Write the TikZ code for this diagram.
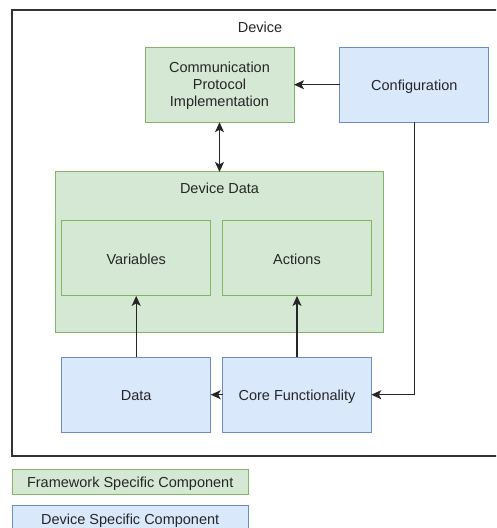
\documentclass[tikz,border=0pt]{standalone}
\usepackage{fontspec}
\setmainfont{Liberation Sans}
\usetikzlibrary{arrows.meta}
\definecolor{gfill}{HTML}{D5E8D4}
\definecolor{gline}{HTML}{82B366}
\definecolor{bfill}{HTML}{DAE8FC}
\definecolor{bline}{HTML}{6C8EBF}
\definecolor{txt}{HTML}{262626}
\begin{document}
\begin{tikzpicture}[x=1pt,y=-1pt,
  every node/.style={font=\fontsize{14.5}{17.2}\selectfont, text=txt, inner sep=0pt, outer sep=0pt},
  gbox/.style={draw=gline, fill=gfill, line width=1pt, rectangle, align=center},
  bbox/.style={draw=bline, fill=bfill, line width=1pt, rectangle, align=center},
  one/.style={text height=11.5pt, text depth=0pt},
  tip/.tip={Stealth[length=10pt,width=9pt,inset=2.5pt]},
  conn/.style={draw=black!85, line width=1.3pt, -tip},
  bconn/.style={draw=black!85, line width=1.3pt, tip-tip}
]
\useasboundingbox (0,0) rectangle (496,528);
\clip (0,0) rectangle (496,528);
\fill[white] (0,0) rectangle (496,528);
% outer device box
\draw[draw=black!80, line width=1.5pt] (12,10) rectangle (512,456);
\node[one] (devlabel) at (260,27) {Device};
% nodes
\node[gbox, minimum width=149pt, minimum height=75pt, text depth=1pt] (comm) at (219.5,84.7) {Communication\\Protocol\\Implementation};
\node[bbox, one, minimum width=149pt, minimum height=75pt] (config) at (414.3,84.7) {Configuration};
\node[gbox, minimum width=327.6pt, minimum height=160.7pt] (devdata) at (219.5,252.3) {};
\node[one] (devdatalabel) at (219.5,188) {Device Data};
\node[gbox, one, minimum width=149pt, minimum height=75pt] (vars) at (136.2,258.4) {Variables};
\node[gbox, one, minimum width=148.6pt, minimum height=75pt] (actions) at (297,258.4) {Actions};
\node[bbox, one, minimum width=149pt, minimum height=75pt] (data) at (136.2,394.7) {Data};
\node[bbox, one, minimum width=148.6pt, minimum height=75pt] (core) at (297,394.7) {Core Functionality};
% legend
\node[gbox, one, minimum width=235.7pt, minimum height=25.3pt] (fw) at (130.2,481.7) {Framework Specific Component};
\node[bbox, one, minimum width=235.7pt, minimum height=25.3pt] (ds) at (130.2,518.6) {Device Specific Component};
% connectors
\draw[conn] (config.west) -- (comm.east);
\draw[bconn] (comm.south) -- (devdata.north);
\draw[conn] (data.north) -- (vars.south);
\draw[conn] (core.north) -- (actions.south);
\draw[conn] (core.west) -- (data.east);
\draw[conn] (config.south) |- (core.east);
\end{tikzpicture}
\end{document}
